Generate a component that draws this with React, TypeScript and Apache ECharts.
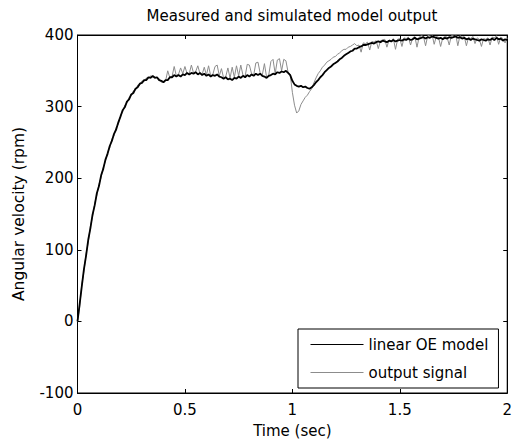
import React, { useEffect, useRef } from "react";
import * as echarts from "echarts";

// Sample spacing of both records (seconds)
const sampleStep = 0.01;

// Simulated output of the linear OE model (rpm), one value per sample
const modelValues: number[] = [
  0, 24, 49, 73, 92, 114, 130, 149, 162, 179,
  189, 204, 213, 226, 234, 245, 252, 262, 268, 278,
  286, 295, 299, 307, 310, 317, 319, 325, 327, 332,
  333, 337, 337, 341, 340, 343, 340, 341, 337, 336,
  334, 337, 337, 341, 341, 344, 342, 344, 342, 345,
  344, 347, 345, 347, 346, 348, 345, 347, 344, 346,
  343, 345, 342, 344, 343, 345, 342, 341, 339, 341,
  338, 339, 337, 340, 339, 342, 340, 343, 341, 344,
  342, 345, 343, 346, 344, 346, 343, 342, 340, 343,
  344, 346, 345, 348, 347, 349, 348, 350, 347, 344,
  336, 331, 329, 328, 329, 327, 328, 326, 325, 327,
  330, 334, 337, 341, 344, 348, 351, 354, 356, 359,
  361, 363, 366, 368, 371, 373, 375, 377, 378, 381,
  381, 383, 384, 386, 386, 387, 388, 389, 388, 390,
  391, 390, 392, 391, 390, 392, 391, 393, 391, 392,
  393, 392, 394, 393, 395, 393, 394, 396, 394, 395,
  396, 397, 395, 397, 396, 398, 397, 396, 395, 396,
  394, 396, 395, 397, 396, 397, 398, 396, 397, 395,
  396, 394, 395, 393, 395, 394, 393, 392, 394, 393,
  392, 394, 393, 395, 393, 396, 394, 395, 392, 394,
  393,
];

// Measured output signal (rpm), one value per sample
const signalValues: number[] = [
  0, 20, 52, 70, 95, 110, 133, 146, 165, 176,
  192, 201, 216, 223, 237, 242, 255, 259, 271, 275,
  288, 292, 302, 305, 313, 315, 322, 323, 330, 330,
  336, 335, 340, 339, 343, 341, 342, 339, 339, 334,
  335, 336, 350, 340, 342, 356, 343, 345, 354, 346,
  356, 346, 346, 358, 347, 349, 357, 346, 345, 355,
  344, 357, 343, 345, 356, 358, 343, 353, 340, 342,
  354, 340, 355, 341, 357, 343, 358, 344, 342, 359,
  358, 346, 344, 361, 362, 347, 344, 360, 341, 344,
  363, 366, 346, 365, 367, 350, 366, 364, 348, 345,
  320, 302, 291, 294, 303, 308, 313, 316, 321, 325,
  333, 340, 346, 350, 355, 358, 362, 364, 366, 369,
  370, 373, 375, 378, 380, 380, 383, 384, 386, 388,
  385, 386, 376, 389, 388, 390, 379, 391, 390, 392,
  381, 392, 393, 394, 383, 393, 392, 395, 380, 394,
  395, 384, 396, 395, 397, 386, 396, 398, 383, 397,
  399, 398, 385, 399, 400, 401, 387, 398, 397, 384,
  396, 398, 397, 386, 399, 400, 401, 385, 399, 397,
  398, 385, 397, 395, 398, 388, 396, 394, 384, 395,
  394, 396, 386, 397, 396, 399, 387, 397, 395, 389,
  396,
];

const seriesNames = ["linear OE model", "output signal"];
const titleText = "Measured and simulated model output";
const xAxisName = "Time (sec)";
const yAxisName = "Angular velocity (rpm)";
const xTicks = [0, 0.5, 1, 1.5, 2];
const yTicks = [-100, 0, 100, 200, 300, 400];

const FONT = "DejaVu Sans";

function toPairs(values: number[]): [number, number][] {
  return values.map((v, i) => [Number((i * sampleStep).toFixed(2)), v]);
}

export default function App() {
  const ref = useRef<HTMLDivElement>(null);

  useEffect(() => {
    if (!ref.current) return;
    const chart = echarts.init(ref.current, undefined, { renderer: "svg" });

    const xMin = xTicks[0];
    const xMax = xTicks[xTicks.length - 1];
    const xInt = xTicks[1] - xTicks[0];
    const yMin = yTicks[0];
    const yMax = yTicks[yTicks.length - 1];
    const yInt = yTicks[1] - yTicks[0];

    const baseAxisLine = { show: true, lineStyle: { color: "#000", width: 1 } };
    const tick = { show: true, inside: true, length: 4, lineStyle: { color: "#000", width: 1 } };

    chart.setOption({
      animation: false,
      backgroundColor: "#fff",
      title: {
        text: titleText,
        left: 292,
        textAlign: "center",
        top: 8,
        padding: 0,
        textStyle: { fontFamily: FONT, fontSize: 15, fontWeight: "normal", color: "#000" },
      },
      grid: {
        left: 77.5,
        right: 5,
        top: 35,
        bottom: 49,
        show: true,
        borderColor: "#000",
        borderWidth: 1,
        backgroundColor: "#fff",
      },
      legend: {
        data: seriesNames,
        orient: "vertical",
        left: 298,
        top: 329,
        padding: [8, 10, 8, 12],
        itemWidth: 53,
        itemHeight: 14,
        itemGap: 13,
        borderColor: "#000",
        borderWidth: 1,
        backgroundColor: "#fff",
        itemStyle: { opacity: 0 },
        lineStyle: { width: 1 },
        textStyle: { fontFamily: FONT, fontSize: 15, color: "#000" },
      },
      xAxis: [
        {
          type: "value",
          min: xMin,
          max: xMax,
          interval: xInt,
          name: xAxisName,
          nameLocation: "middle",
          nameGap: 30,
          nameTextStyle: { fontFamily: FONT, fontSize: 15, color: "#000" },
          axisLine: { ...baseAxisLine, onZero: false },
          axisTick: tick,
          splitLine: { show: false },
          axisLabel: {
            fontFamily: FONT,
            fontSize: 15,
            color: "#000",
            margin: 9,
            formatter: (v: number) => String(v),
          },
        },
        {
          type: "value",
          position: "top",
          min: xMin,
          max: xMax,
          interval: xInt,
          axisLine: { ...baseAxisLine, onZero: false },
          axisTick: tick,
          splitLine: { show: false },
          axisLabel: { show: false },
        },
      ],
      yAxis: [
        {
          type: "value",
          min: yMin,
          max: yMax,
          interval: yInt,
          name: yAxisName,
          nameLocation: "middle",
          nameGap: 51,
          nameTextStyle: { fontFamily: FONT, fontSize: 15.5, color: "#000" },
          axisLine: { ...baseAxisLine, onZero: false },
          axisTick: tick,
          splitLine: { show: false },
          axisLabel: { fontFamily: FONT, fontSize: 15, color: "#000", margin: 4 },
        },
        {
          type: "value",
          position: "right",
          min: yMin,
          max: yMax,
          interval: yInt,
          axisLine: { ...baseAxisLine, onZero: false },
          axisTick: tick,
          splitLine: { show: false },
          axisLabel: { show: false },
        },
      ],
      series: [
        {
          name: seriesNames[1],
          type: "line",
          xAxisIndex: 0,
          yAxisIndex: 0,
          data: toPairs(signalValues),
          symbol: "none",
          showSymbol: false,
          lineStyle: { color: "#8c8c8c", width: 1 },
          itemStyle: { color: "#8c8c8c" },
          z: 2,
        },
        {
          name: seriesNames[0],
          type: "line",
          xAxisIndex: 0,
          yAxisIndex: 0,
          data: toPairs(modelValues),
          symbol: "none",
          showSymbol: false,
          lineStyle: { color: "#000", width: 1.8 },
          itemStyle: { color: "#000" },
          z: 3,
        },
      ],
    });

    return () => chart.dispose();
  }, []);

  return (
    <div
      ref={ref}
      style={{ position: "fixed", left: 0, top: 0, width: 515, height: 443 }}
    />
  );
}
